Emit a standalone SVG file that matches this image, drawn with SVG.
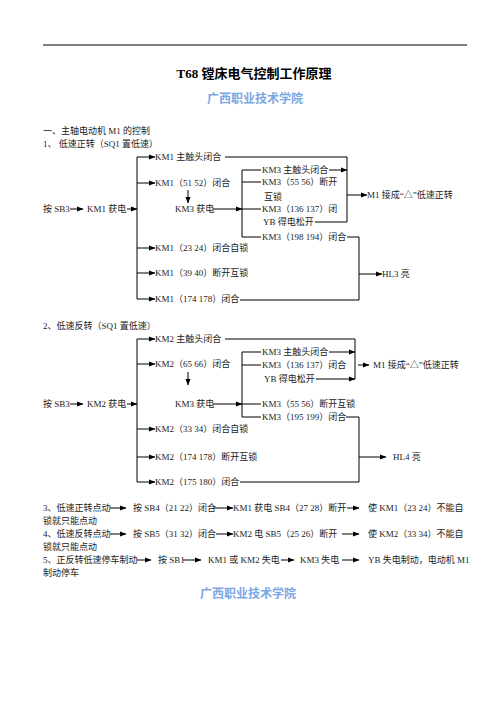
<svg xmlns="http://www.w3.org/2000/svg" width="496" height="702" viewBox="0 0 496 702">
<defs>
<marker id="ah" markerWidth="7" markerHeight="6" refX="6" refY="3" orient="auto" markerUnits="userSpaceOnUse">
<path d="M0,0.5 L6.5,3 L0,5.5 Z" fill="#000"/>
</marker>
<style>
.t{font-family:"Liberation Serif","Noto Sans CJK SC",serif;font-size:9px;fill:#222}
.l{stroke:#000;stroke-width:1;fill:none}
.a{stroke:#000;stroke-width:1;fill:none;marker-end:url(#ah)}
.title{font-family:"Liberation Serif","Noto Sans CJK SC",serif;font-size:13px;font-weight:bold;fill:#000}
.sub{font-family:"Liberation Sans","Noto Sans CJK SC",sans-serif;font-size:12px;font-weight:bold;fill:#7aa6e4}
</style>
</defs>
<rect width="496" height="702" fill="#fff"/>

<g id="header">
<line class="l" x1="43" y1="45" x2="467" y2="45"/>
<text class="title" x="254" y="78" text-anchor="middle">T68 镗床电气控制工作原理</text>
<text class="sub" x="255" y="103" text-anchor="middle">广西职业技术学院</text>
<text class="t" x="43" y="134">一、主轴电动机 M1 的控制</text>
<text class="t" x="43" y="147">1、 低速正转（SQ1 置低速）</text>
</g>

<!-- Section 1 nodes -->
<g id="s1-start"><text class="t" x="43" y="212">按 SB3</text></g>
<g id="s1-km1"><text class="t" x="87" y="212">KM1 获电</text></g>
<g id="s1-n1"><text class="t" x="155" y="160">KM1 主触头闭合</text></g>
<g id="s1-n2"><text class="t" x="155" y="186">KM1（51 52）闭合</text></g>
<g id="s1-km3"><text class="t" x="175" y="212">KM3 获电</text></g>
<g id="s1-n3"><text class="t" x="155" y="251">KM1（23 24）闭合自锁</text></g>
<g id="s1-n4"><text class="t" x="155" y="276">KM1（39 40）断开互锁</text></g>
<g id="s1-n5"><text class="t" x="155" y="302">KM1（174 178）闭合</text></g>
<g id="s1-k1"><text class="t" x="262" y="173">KM3 主触头闭合</text></g>
<g id="s1-k2"><text class="t" x="262" y="185">KM3（55 56）断开</text><text class="t" x="264" y="200">互锁</text></g>
<g id="s1-k3"><text class="t" x="262" y="212">KM3（136 137）闭</text><text class="t" x="263" y="225">YB 得电松开</text></g>
<g id="s1-k4"><text class="t" x="262" y="240">KM3（198 194）闭合</text></g>
<g id="s1-m1"><text class="t" x="367" y="198">M1 接成“△”低速正转</text></g>
<g id="s1-hl3"><text class="t" x="382" y="277">HL3 亮</text></g>

<!-- Section 2 nodes -->
<g id="s2-head"><text class="t" x="43" y="329">2、低速反转（SQ1 置低速）</text></g>
<g id="s2-start"><text class="t" x="43" y="407">按 SB3</text></g>
<g id="s2-km2"><text class="t" x="87" y="407">KM2 获电</text></g>
<g id="s2-n1"><text class="t" x="155" y="342">KM2 主触头闭合</text></g>
<g id="s2-n2"><text class="t" x="155" y="367">KM2（65 66）闭合</text></g>
<g id="s2-km3"><text class="t" x="175" y="407">KM3 获电</text></g>
<g id="s2-n3"><text class="t" x="155" y="432">KM2（33 34）闭合自锁</text></g>
<g id="s2-n4"><text class="t" x="155" y="460">KM2（174 178）断开互锁</text></g>
<g id="s2-n5"><text class="t" x="155" y="485">KM2（175 180）闭合</text></g>
<g id="s2-k1"><text class="t" x="262" y="355">KM3 主触头闭合</text></g>
<g id="s2-k2"><text class="t" x="262" y="368">KM3（136 137）闭合</text></g>
<g id="s2-k3"><text class="t" x="264" y="382">YB 得电松开</text></g>
<g id="s2-k4"><text class="t" x="262" y="407">KM3（55 56）断开互锁</text></g>
<g id="s2-k5"><text class="t" x="262" y="420">KM3（195 199）闭合</text></g>
<g id="s2-m1"><text class="t" x="373" y="368">M1 接成“△”低速正转</text></g>
<g id="s2-hl4"><text class="t" x="393" y="460">HL4 亮</text></g>

<!-- Bottom lines -->
<g id="line3">
<text class="t" x="43" y="511">3、低速正转点动</text>
<text class="t" x="133" y="511">按 SB4（21 22）闭合</text>
<text class="t" x="233" y="511">KM1 获电 SB4（27 28）断开</text>
<text class="t" x="368" y="511">使  KM1（23 24）不能自</text>
<text class="t" x="43" y="524">锁就只能点动</text>
</g>
<g id="line4">
<text class="t" x="43" y="537">4、低速反转点动</text>
<text class="t" x="133" y="537">按 SB5（31 32）闭合</text>
<text class="t" x="233" y="537">KM2 电 SB5（25 26）断开</text>
<text class="t" x="368" y="537">使  KM2（33 34）不能自</text>
<text class="t" x="43" y="550">锁就只能点动</text>
</g>
<g id="line5">
<text class="t" x="43" y="563">5、正反转低速停车制动</text>
<text class="t" x="158" y="563">按 SB1</text>
<text class="t" x="208" y="563">KM1 或 KM2 失电</text>
<text class="t" x="300" y="563">KM3 失电</text>
<text class="t" x="368" y="563">YB 失电制动，电动机 M1</text>
<text class="t" x="43" y="576">制动停车</text>
</g>
<g id="footer"><text class="sub" x="248" y="598" text-anchor="middle">广西职业技术学院</text></g>

<g id="connectors">
<!-- section 1 -->
<line class="a" x1="70" y1="209" x2="83" y2="209"/>
<line class="a" x1="127" y1="209" x2="137" y2="209"/>
<polyline class="l" points="137,157 137,299"/>
<line class="a" x1="137" y1="157" x2="155" y2="157"/>
<line class="a" x1="137" y1="183" x2="155" y2="183"/>
<line class="a" x1="137" y1="248" x2="155" y2="248"/>
<line class="a" x1="137" y1="273" x2="155" y2="273"/>
<line class="a" x1="137" y1="299" x2="155" y2="299"/>
<line class="a" x1="188" y1="190" x2="188" y2="203"/>
<line class="a" x1="213" y1="209" x2="242" y2="209"/>
<polyline class="l" points="261,170 242,170 242,237 261,237"/>
<line class="l" x1="242" y1="182" x2="261" y2="182"/>
<line class="l" x1="242" y1="209" x2="261" y2="209"/>
<polyline class="l" points="225,157 347,157 347,222 315,222"/>
<line class="a" x1="329" y1="170" x2="347" y2="170"/>
<line class="a" x1="347" y1="195" x2="367" y2="195"/>
<polyline class="l" points="347,237 359,237 359,300 240,300"/>
<line class="a" x1="359" y1="274" x2="382" y2="274"/>
<!-- section 2 -->
<line class="a" x1="70" y1="404" x2="83" y2="404"/>
<line class="a" x1="127" y1="404" x2="137" y2="404"/>
<polyline class="l" points="137,339 137,482"/>
<line class="a" x1="137" y1="339" x2="155" y2="339"/>
<line class="a" x1="137" y1="364" x2="155" y2="364"/>
<line class="a" x1="137" y1="429" x2="155" y2="429"/>
<line class="a" x1="137" y1="457" x2="155" y2="457"/>
<line class="a" x1="137" y1="482" x2="155" y2="482"/>
<line class="a" x1="188" y1="372" x2="188" y2="385"/>
<line class="a" x1="213" y1="404" x2="242" y2="404"/>
<polyline class="l" points="261,352 242,352 242,417 261,417"/>
<line class="l" x1="242" y1="365" x2="261" y2="365"/>
<line class="l" x1="242" y1="404" x2="261" y2="404"/>
<polyline class="l" points="225,339 355,339 355,379"/>
<line class="a" x1="329" y1="352" x2="355" y2="352"/>
<line class="a" x1="316" y1="379" x2="355" y2="379"/>
<line class="a" x1="358" y1="365" x2="369" y2="365"/>
<polyline class="l" points="346,417 359,417 359,482 240,482"/>
<line class="a" x1="359" y1="457" x2="386" y2="457"/>
<!-- bottom -->
<line class="a" x1="110" y1="508" x2="126" y2="508"/>
<line class="a" x1="213" y1="508" x2="233" y2="508"/>
<line class="a" x1="347" y1="508" x2="359" y2="508"/>
<line class="a" x1="110" y1="534" x2="126" y2="534"/>
<line class="a" x1="216" y1="534" x2="233" y2="534"/>
<line class="a" x1="342" y1="534" x2="359" y2="534"/>
<line class="a" x1="137" y1="560" x2="151" y2="560"/>
<line class="a" x1="183" y1="560" x2="201" y2="560"/>
<line class="a" x1="281" y1="560" x2="294" y2="560"/>
<line class="a" x1="342" y1="560" x2="359" y2="560"/>
</g>
</svg>
